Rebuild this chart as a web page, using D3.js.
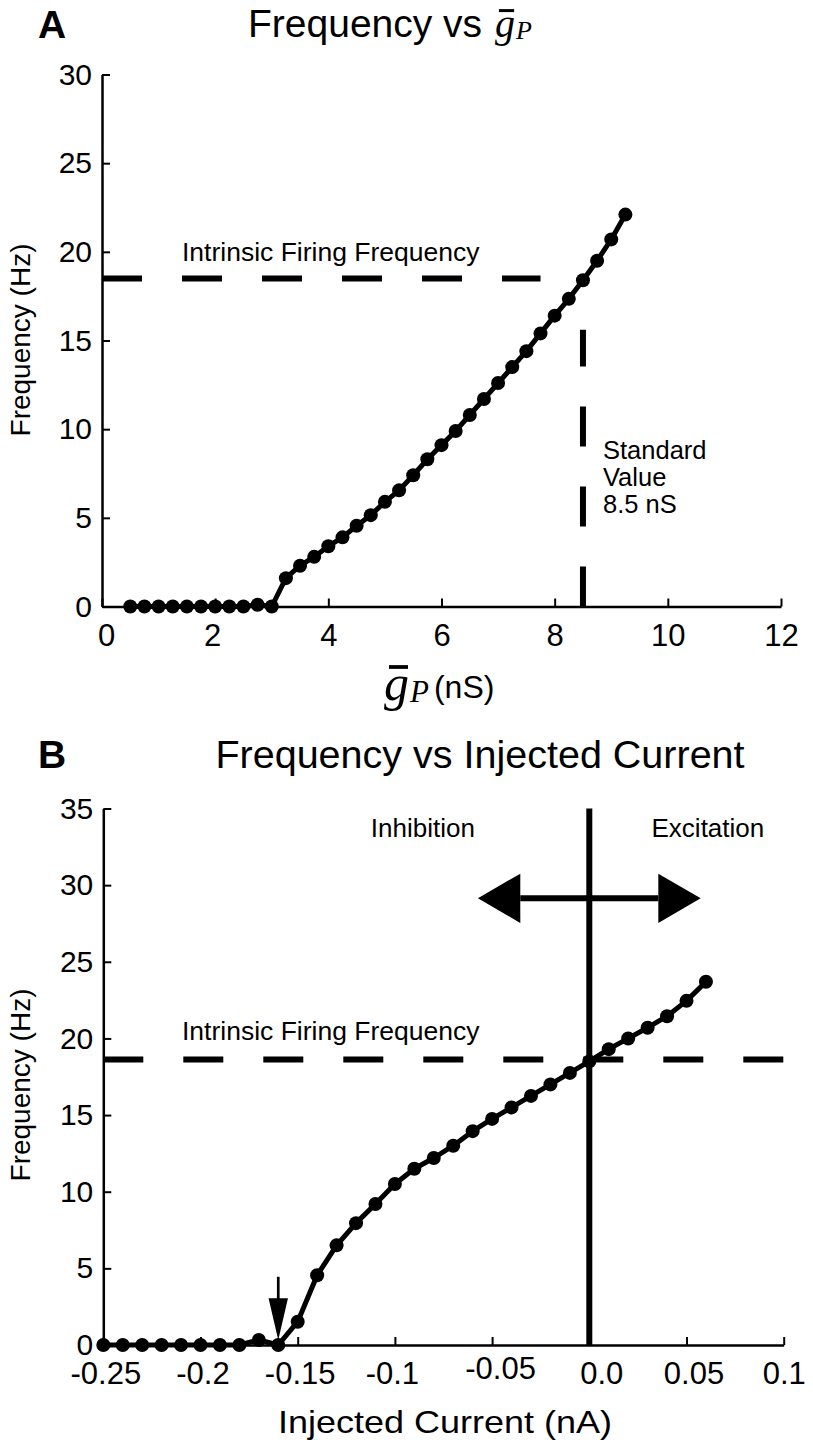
<!DOCTYPE html>
<html><head><meta charset="utf-8">
<script src="https://cdn.jsdelivr.net/npm/d3@7"></script>
<style>body{margin:0;background:#fff}</style>
</head><body>
<svg id="c" width="813" height="1443"></svg>
<script>
// ---------- DATA ----------
const gpValues = [0.5,0.75,1,1.25,1.5,1.75,2,2.25,2.5,2.75,3,3.25,3.5,3.75,4,4.25,4.5,4.75,5,5.25,5.5,5.75,6,6.25,6.5,6.75,7,7.25,7.5,7.75,8,8.25,8.5,8.75,9,9.25];
const freqA    = [0,0,0,0,0,0,0,0,0,0.1,0,1.6,2.3,2.8,3.4,3.9,4.55,5.15,5.9,6.55,7.4,8.3,9.1,9.9,10.8,11.7,12.6,13.5,14.4,15.4,16.4,17.35,18.4,19.5,20.7,22.1];
const currentValues = [-0.25,-0.24,-0.23,-0.22,-0.21,-0.2,-0.19,-0.18,-0.17,-0.16,-0.15,-0.14,-0.13,-0.12,-0.11,-0.1,-0.09,-0.08,-0.07,-0.06,-0.05,-0.04,-0.03,-0.02,-0.01,0,0.01,0.02,0.03,0.04,0.05,0.06];
const freqB         = [0,0,0,0,0,0,0,0,0.33,0,1.52,4.55,6.5,7.95,9.2,10.5,11.5,12.2,13.0,13.95,14.75,15.5,16.25,17.0,17.75,18.5,19.3,20.0,20.7,21.45,22.45,23.7];
const ticksAX = [0,2,4,6,8,10,12];
const ticksAY = [0,5,10,15,20,25,30];
const ticksBX = [-0.25,-0.2,-0.15,-0.1,-0.05,0,0.05,0.1];
const tickLabelsBX = ["-0.25","-0.2","-0.15","-0.1","-0.05","0.0","0.05","0.1"];
const ticksBY = [0,5,10,15,20,25,30,35];
const intrinsicA = 18.5, intrinsicB = 18.63;
const standardGp = 8.5, standardTop = 15.6, intrinsicAEnd = 7.75;
const thresholdCurrent = -0.16, thresholdArrowTop = 4.45, thresholdArrowBase = 3.05, thresholdArrowTip = 0.33;
const dirArrowY = 29.14, dirArrowLeft = -0.0573, dirArrowRight = 0.0573, dirHeadLen = 0.0218;

// ---------- SETUP ----------
const svg = d3.select("#c");
const SANS = "'Liberation Sans', Arial, Helvetica, sans-serif";
const SERIF = "'Liberation Serif', 'Times New Roman', serif";
const xA = d3.scaleLinear([0,12],[102,781]);
const yA = d3.scaleLinear([0,30],[606.5,74.5]);
const xB = d3.scaleLinear([-0.25,0.1],[103.3,783.7]);
const yB = d3.scaleLinear([0,35],[1345,808.5]);

function styleAxis(g, fs){
  g.select(".domain").attr("stroke","#000").attr("stroke-width",2.5);
  g.selectAll(".tick line").attr("stroke","#000").attr("stroke-width",2);
  g.selectAll(".tick text").attr("font-family",SANS).attr("font-size",fs).attr("fill","#000");
}
function drawAxes(x, y, tx, ty, fmtX){
  const ax = d3.axisBottom(x).tickValues(tx).tickSizeInner(-8).tickSizeOuter(0).tickPadding(17).tickFormat(fmtX);
  const gx = svg.append("g").attr("transform",`translate(0,${y.range()[0]})`).call(ax);
  styleAxis(gx, 31);
  const ay = d3.axisLeft(y).tickValues(ty).tickSizeInner(-8).tickSizeOuter(0).tickPadding(10);
  const gy = svg.append("g").attr("transform",`translate(${x.range()[0]},0)`).call(ay);
  styleAxis(gy, 30);
  return gx;
}
function drawSeries(x, y, xs, ys){
  const pts = xs.map((v,i)=>[v, ys[i]]);
  svg.append("path").datum(pts)
    .attr("d", d3.line().x(d=>x(d[0])).y(d=>y(d[1])))
    .attr("fill","none").attr("stroke","#000").attr("stroke-width",5).attr("stroke-linejoin","round");
  svg.append("g").selectAll("circle").data(pts).join("circle")
    .attr("cx",d=>x(d[0])).attr("cy",d=>y(d[1])).attr("r",7).attr("fill","#000");
}
function dashed(x1,y1,x2,y2){
  svg.append("line").attr("x1",x1).attr("y1",y1).attr("x2",x2).attr("y2",y2)
    .attr("stroke","#000").attr("stroke-width",6).attr("stroke-dasharray","40,40");
}
function text(x,y,s,fs,opts={}){
  return svg.append("text").attr("x",x).attr("y",y).text(s)
    .attr("font-family",opts.family||SANS).attr("font-size",fs)
    .attr("font-weight",opts.weight||"normal").attr("text-anchor",opts.anchor||"start")
    .attr("fill","#000");
}
// g-bar-P composite label; returns right edge
function gbarP(x, y, gSize, pSize){
  const g = text(x, y, "g", gSize, {family:SERIF}).attr("font-style","italic");
  const bb = g.node().getBBox();
  const w = g.node().getComputedTextLength();
  svg.append("line").attr("x1",bb.x+gSize*0.1).attr("x2",bb.x+bb.width-gSize*0.02)
    .attr("y1",y-gSize*0.66).attr("y2",y-gSize*0.66).attr("stroke","#000").attr("stroke-width",gSize*0.075);
  const p = text(x+w+1, y+gSize*0.04, "P", pSize, {family:SERIF}).attr("font-style","italic");
  return x+w+1+p.node().getComputedTextLength();
}

// ---------- PANEL A ----------
const gxA = drawAxes(xA, yA, ticksAX, ticksAY, d3.format("d"));
gxA.selectAll(".tick text").attr("dx",(d)=> d===0 ? 4 : (d===2 ? -3 : 0));
dashed(xA(0), yA(intrinsicA), xA(intrinsicAEnd), yA(intrinsicA));
dashed(xA(standardGp), yA(0), xA(standardGp), yA(standardTop));
drawSeries(xA, yA, gpValues, freqA);
text(182, 261, "Intrinsic Firing Frequency", 26.5);
text(603, 459, "Standard", 25.5);
text(603, 486, "Value", 25.5);
text(603, 513, "8.5 nS", 25.5);
text(38, 38, "A", 39, {weight:"bold"});
{
  const t = text(248, 37, "Frequency vs\u00A0", 39);
  const w = t.node().getComputedTextLength();
  gbarP(248+w+2, 37, 40, 26);
}
{
  const gx = 384, gy = 700;
  const r = gbarP(gx, gy, 50, 31);
  text(r+5, gy-2, "(nS)", 32);
}
svg.append("text").attr("transform","translate(30,340) rotate(-90)")
  .attr("text-anchor","middle").attr("font-family",SANS).attr("font-size",28).text("Frequency (Hz)");

// ---------- PANEL B ----------
const gxB = drawAxes(xB, yB, ticksBX, ticksBY, (d,i)=>tickLabelsBX[i]);
gxB.selectAll(".tick text")
  .attr("dx",(d,i)=> [2,2,2,-3,8,12,7,0][i])
  .attr("dy",(d,i)=> i===4 ? "0.55em" : "0.71em");
dashed(xB(-0.25), yB(intrinsicB), xB(0.1), yB(intrinsicB));
svg.append("line").attr("x1",xB(0)).attr("x2",xB(0)).attr("y1",yB(0)).attr("y2",yB(35))
  .attr("stroke","#000").attr("stroke-width",6);
drawSeries(xB, yB, currentValues, freqB);
// threshold arrow
{
  const ax = xB(thresholdCurrent), top = yB(thresholdArrowTop), base = yB(thresholdArrowBase), tip = yB(thresholdArrowTip);
  svg.append("line").attr("x1",ax).attr("x2",ax).attr("y1",top).attr("y2",base+1).attr("stroke","#000").attr("stroke-width",2.7);
  svg.append("path").attr("d",`M${ax-9.7},${base}L${ax+9.7},${base}L${ax},${tip}Z`).attr("fill","#000");
}
// direction double arrow
{
  const y = yB(dirArrowY), l = xB(dirArrowLeft), r = xB(dirArrowRight);
  const lb = xB(dirArrowLeft + dirHeadLen), rb = xB(dirArrowRight - dirHeadLen);
  svg.append("line").attr("x1",lb).attr("x2",rb).attr("y1",y).attr("y2",y).attr("stroke","#000").attr("stroke-width",6);
  svg.append("path").attr("d",`M${l},${y}L${lb},${y-24.7}L${lb},${y+24.7}Z`).attr("fill","#000");
  svg.append("path").attr("d",`M${r},${y}L${rb},${y-24.7}L${rb},${y+24.7}Z`).attr("fill","#000");
}
text(xB(-0.0856), 837, "Inhibition", 26, {anchor:"middle"});
text(xB(0.061), 837, "Excitation", 26, {anchor:"middle"});
text(182, 1040, "Intrinsic Firing Frequency", 26.5);
text(38, 768, "B", 39, {weight:"bold"});
text(480, 768, "Frequency vs Injected Current", 39.5, {anchor:"middle"});
text(278, 1433, "Injected Current (nA)", 32).attr("textLength",334).attr("lengthAdjust","spacingAndGlyphs");
svg.append("text").attr("transform","translate(30,1085) rotate(-90)")
  .attr("text-anchor","middle").attr("font-family",SANS).attr("font-size",28).text("Frequency (Hz)");
</script>
</body></html>
